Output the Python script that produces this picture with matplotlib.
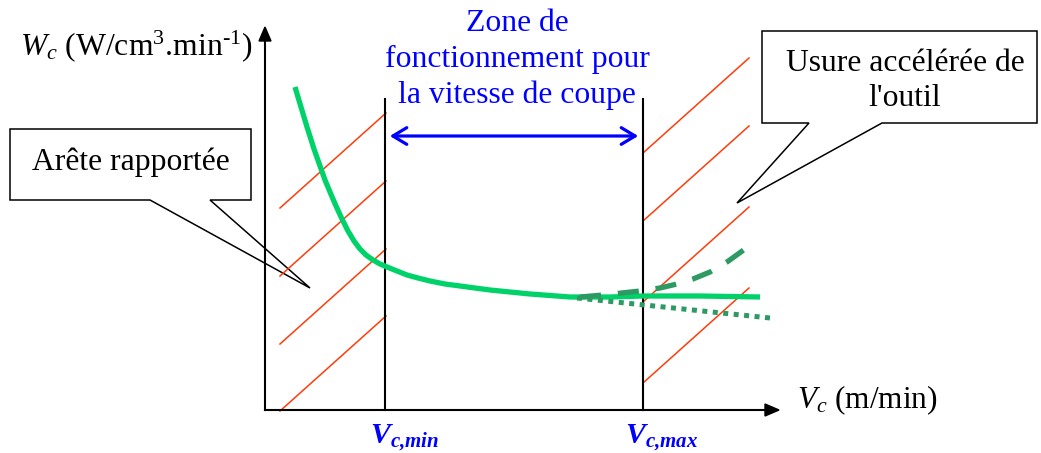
import matplotlib.pyplot as plt
from matplotlib.patches import Polygon, FancyArrowPatch

plt.rcParams["font.family"] = ["Liberation Serif", "DejaVu Serif"]
plt.rcParams["mathtext.fontset"] = "custom"
plt.rcParams["mathtext.rm"] = "Liberation Serif"
plt.rcParams["mathtext.it"] = "Liberation Serif:italic"
plt.rcParams["mathtext.bf"] = "Liberation Serif:italic:bold"

# schematic drawn in picture coordinates (x right, y down)
curve_x = [295, 301, 307, 314, 320, 325, 330, 336, 342, 348, 354, 360, 366,
           373, 380, 387, 397, 407, 418, 430, 445, 460, 490, 530, 570, 610,
           643, 700, 760]
curve_y = [87, 107, 127, 149, 166, 180, 192, 206, 219, 231, 241, 249, 255,
           260, 264, 267, 271, 275, 278, 281, 284, 286, 290, 294, 297, 297,
           296, 296, 297]

dash_x = [580, 603, 640, 660, 677, 693, 710, 727, 745]
dash_y = [297, 295, 291, 288, 284, 279, 272, 262, 249]

dot_x = [577, 770]
dot_y = [298, 318]

vc_min = 385
vc_max = 643
axis_x0 = 265
axis_y0 = 410

left_hatch_y = [208, 276, 344, 411]
right_hatch_y = [153, 221, 302, 383]
hatch_rise = 95

zone_lines = ["Zone de", "fonctionnement pour", "la vitesse de coupe"]
zone_base = [31, 67, 103]
left_note = "Arête rapportée"
right_lines = ["Usure accélérée de", "l'outil"]
right_base = [71, 106]

left_box = [(10, 129), (251, 129), (251, 200), (210, 200), (310, 288),
            (150, 200), (10, 200)]
right_box = [(762, 31), (1037, 31), (1037, 123), (882, 123), (737, 203),
             (809, 123), (762, 123)]

fig = plt.figure(figsize=(10.41, 4.53), dpi=100)
ax = fig.add_axes([0, 0, 1, 1])
ax.set_xlim(0, 1041)
ax.set_ylim(453, 0)
ax.axis("off")

red = "#ff3c0a"
for y in left_hatch_y:
    ax.plot([280, vc_min + 1], [y, y - hatch_rise], color=red, lw=1.1)
for y in right_hatch_y:
    ax.plot([vc_max, 749], [y, y - hatch_rise], color=red, lw=1.1)

# axes with filled arrow heads
ax.plot([axis_x0, axis_x0], [axis_y0, 40], color="black", lw=1.5)
ax.plot([axis_x0, 766], [axis_y0, axis_y0], color="black", lw=1.5)
ax.add_patch(Polygon([(259, 41), (271, 41), (265, 27)], color="black"))
ax.add_patch(Polygon([(765, 404), (765, 416), (779, 410)], color="black"))

ax.plot([vc_min, vc_min], [axis_y0, 99], color="black", lw=1.5)
ax.plot([vc_max, vc_max], [axis_y0, 99], color="black", lw=1.5)

ax.plot(curve_x, curve_y, color="#00d26a", lw=3.8, solid_capstyle="butt",
        solid_joinstyle="round")
ax.plot(dash_x, dash_y, color="#2e9a63", lw=3.8, ls=(0, (4, 3.2)),
        dash_capstyle="butt")
ax.plot(dot_x, dot_y, color="#2e9a63", lw=3.6, ls=(0, (1, 1.1)),
        dash_capstyle="butt")

blue = "#0000ff"
ax.add_patch(FancyArrowPatch((vc_min + 2, 136), (vc_max - 2, 136),
                             arrowstyle="<->,head_length=10,head_width=6",
                             color=blue, lw=2.3, mutation_scale=1))
for line, yb in zip(zone_lines, zone_base):
    ax.text(517, yb, line, color=blue, fontsize=22.8, ha="center",
            va="baseline")

ax.add_patch(Polygon(left_box, closed=True, facecolor="none",
                     edgecolor="black", lw=1.1))
ax.add_patch(Polygon(right_box, closed=True, facecolor="none",
                     edgecolor="black", lw=1.1))
ax.text(131, 170, left_note, fontsize=22.8, ha="center", va="baseline")
for line, yb in zip(right_lines, right_base):
    ax.text(905, yb, line, fontsize=22.8, ha="center", va="baseline")

ax.text(20, 55, "$W_c$ (W/cm$^3$.min$^{\u20101}$)", fontsize=22.8,
        ha="left", va="baseline")
ax.text(797, 408, r"$V_c$ (m/min)", fontsize=22.5, ha="left",
        va="baseline")
ax.text(370, 443, r"$\mathbf{V_{c{,}min}}$", color=blue, fontsize=21.5,
        ha="left", va="baseline")
ax.text(625, 443, r"$\mathbf{V_{c{,}max}}$", color=blue, fontsize=21.5,
        ha="left", va="baseline")

fig.savefig("out.png", dpi=100)
